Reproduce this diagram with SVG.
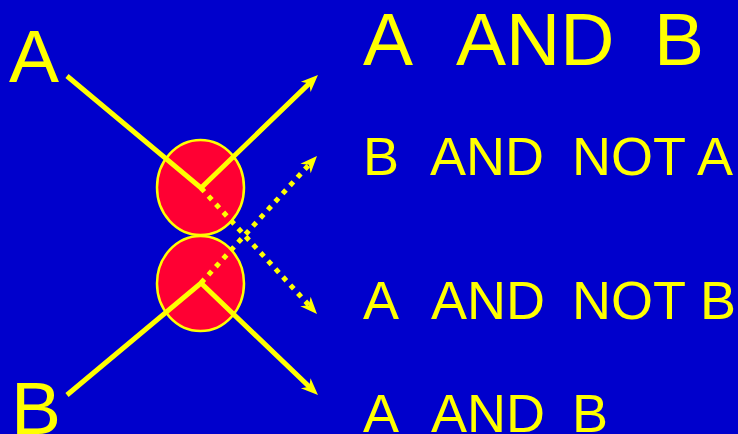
<svg xmlns="http://www.w3.org/2000/svg" width="738" height="434" viewBox="0 0 738 434">
  <style>
    .lbl { font-family: "Liberation Sans", Arial, sans-serif; fill: #FFFF00; }
    .big { font-size: 75px; }
    .mid { font-size: 54px; }
    .gate { fill: #FF0033; stroke: #FFFF00; stroke-width: 2.5; }
    .solid { fill: none; stroke: #FFFF00; stroke-width: 5; stroke-linejoin: miter; }
    .dotted { fill: none; stroke: #FFFF00; stroke-width: 5; stroke-dasharray: 5 6; }
  </style>
  <defs>
    <marker id="arrow" markerUnits="userSpaceOnUse" markerWidth="20" markerHeight="18" refX="9" refY="0" viewBox="0 -9 20 18" orient="auto" overflow="visible">
      <path d="M17,0 L0,-7 L5,0 L0,7 Z" fill="#FFFF00"/>
    </marker>
  </defs>
  <rect x="0" y="0" width="738" height="434" fill="#0000CC"/>

  <g id="gate-top"><ellipse class="gate" cx="200.5" cy="187.5" rx="43.5" ry="47.5"/></g>
  <g id="gate-bottom"><ellipse class="gate" cx="200.5" cy="283.5" rx="43.5" ry="47.5"/></g>

  <g id="connectors">
    <polyline class="solid" points="67,76 201,188 312.2,80.6" marker-end="url(#arrow)"/>
    <polyline class="solid" points="67,395 201,283 312.2,389.5" marker-end="url(#arrow)"/>
    <line class="dotted" x1="201" y1="188" x2="311.6" y2="308.1" marker-end="url(#arrow)"/>
    <line class="dotted" x1="201" y1="283" x2="311.6" y2="161.9" marker-end="url(#arrow)"/>
  </g>

  <g id="input-A"><text class="lbl big" x="9" y="82">A</text></g>
  <g id="input-B"><text class="lbl big" x="11" y="434">B</text></g>

  <g id="out-1"><text class="lbl big" y="65"><tspan x="363">A</tspan><tspan x="456">AND</tspan><tspan x="654">B</tspan></text></g>
  <g id="out-2"><text class="lbl mid" y="175"><tspan x="363">B</tspan><tspan x="430">AND</tspan><tspan x="572">NOT A</tspan></text></g>
  <g id="out-3"><text class="lbl mid" y="319"><tspan x="363">A</tspan><tspan x="431">AND</tspan><tspan x="572">NOT B</tspan></text></g>
  <g id="out-4"><text class="lbl mid" y="432"><tspan x="363">A</tspan><tspan x="431">AND</tspan><tspan x="572">B</tspan></text></g>
</svg>
